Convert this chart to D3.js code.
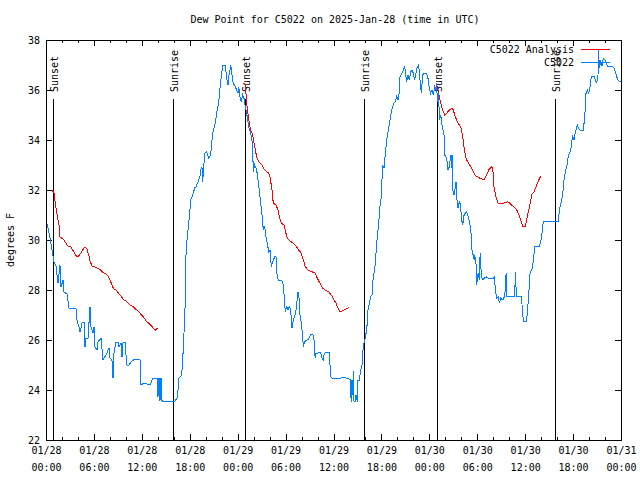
<!DOCTYPE html>
<html>
<head>
<meta charset="utf-8">
<script src="https://cdn.jsdelivr.net/npm/d3@7"></script>
<style>
  html, body { margin: 0; padding: 0; background: #fff; }
  svg { display: block; }
  text { font-family: "DejaVu Sans Mono", "Liberation Mono", monospace; font-size: 10px; fill: #000; }
</style>
</head>
<body>
<div id="chart"></div>
<script>
// ---------------- DATA ----------------
const titleText = "Dew Point for C5022 on 2025-Jan-28 (time in UTC)";
const yLabelText = "degrees F";
const startUTC = Date.UTC(2025, 0, 28, 0, 0);   // 01/28 00:00 UTC
const spanHours = 72;
const yTickValues = [22, 24, 26, 28, 30, 32, 34, 36, 38];
const xMajorHours = [0, 6, 12, 18, 24, 30, 36, 42, 48, 54, 60, 66, 72];
const xMinorHours = d3.range(0, 73, 2);

// C5022 observed dew point (hours since 01/28 00:00 UTC, degrees F)
const obsHours = [0.00,0.25,0.50,0.75,1.00,1.25,1.50,1.75,1.88,2.13,2.25,2.63,2.88,3.76,3.88,4.13,4.26,4.51,4.76,4.88,5.01,5.26,5.51,5.63,5.89,6.01,6.14,6.39,6.51,6.89,7.14,7.51,7.89,8.01,8.26,8.39,8.51,8.77,9.02,9.14,9.39,9.52,9.64,9.89,10.02,10.14,10.39,10.64,11.14,11.77,11.90,12.27,13.02,13.40,13.90,14.02,14.15,14.27,14.40,14.53,16.15,16.40,16.53,16.65,16.90,17.03,17.16,17.28,17.41,17.47,17.53,17.66,17.78,17.94,18.12,18.28,18.45,18.62,18.78,18.95,19.12,19.28,19.37,19.53,19.62,19.70,19.87,20.12,20.37,20.62,20.79,20.95,21.20,21.37,21.63,21.79,21.95,22.13,22.45,22.63,22.79,22.88,23.04,23.13,23.29,23.45,23.70,23.88,24.04,24.13,24.29,24.46,24.63,24.79,24.96,25.13,25.38,25.63,25.79,25.88,25.96,26.13,26.38,26.55,26.71,26.88,27.05,27.21,27.39,27.55,27.71,27.89,28.05,28.21,28.39,28.64,28.80,28.96,29.14,29.46,29.64,29.80,29.96,30.14,30.30,30.47,30.64,30.80,30.97,31.14,31.30,31.56,31.72,31.81,31.97,32.14,32.22,32.39,32.64,32.89,33.15,33.40,33.56,33.65,33.72,33.81,34.40,34.56,34.72,34.81,34.97,35.48,35.65,35.81,36.81,37.32,38.07,38.16,38.23,38.32,38.41,38.48,38.57,38.73,38.82,38.98,39.07,39.24,39.41,39.57,39.66,39.73,39.91,40.16,40.32,40.48,40.66,40.82,40.98,41.16,41.32,41.48,41.66,41.82,41.99,42.07,42.16,42.32,42.49,42.66,42.91,43.07,43.24,43.41,43.58,43.74,43.91,44.08,44.24,44.33,44.58,44.74,44.92,45.08,45.17,45.33,45.49,45.67,45.83,45.99,46.17,46.33,46.49,46.67,46.83,47.00,47.17,47.33,47.67,47.83,48.00,48.17,48.33,48.50,48.67,48.83,48.92,49.00,49.17,49.25,49.42,49.59,49.84,49.92,50.17,50.34,50.50,50.68,50.76,50.84,50.92,51.10,51.26,51.35,51.42,51.60,51.76,51.92,52.01,52.18,52.35,52.60,52.76,52.93,53.10,53.27,53.36,53.53,53.61,53.69,53.86,53.93,54.11,54.27,54.36,54.53,54.70,54.86,55.11,55.36,56.02,56.15,56.27,56.44,56.61,56.77,56.94,57.19,57.36,57.52,57.61,57.69,58.69,58.77,58.85,58.94,59.52,59.70,59.77,60.15,60.27,60.44,60.61,60.86,61.02,61.19,61.36,61.79,61.95,62.11,62.27,64.15,64.28,64.53,64.70,64.86,65.03,65.20,65.36,65.53,65.70,65.87,65.95,66.12,66.20,66.53,66.70,66.87,67.28,67.46,67.62,67.78,67.96,68.12,68.28,68.62,68.78,68.96,69.12,69.21,69.28,69.46,69.62,69.78,70.03,70.28,70.95,71.12,71.29,71.46,71.62,71.87,72.00];
const obsValues = [30.80,30.48,30.08,29.60,29.12,28.96,28.28,29.00,28.12,28.40,27.92,27.84,27.28,27.24,26.80,26.52,26.32,26.68,26.72,25.72,26.08,26.08,27.32,26.52,26.28,26.52,25.72,25.60,25.92,26.08,25.20,25.40,25.68,25.28,25.20,24.48,25.48,25.92,25.92,25.72,25.88,25.32,25.88,25.92,25.40,25.00,25.00,25.12,25.24,25.20,24.20,24.28,24.20,24.48,24.48,23.72,24.48,23.56,24.48,23.56,23.56,23.68,24.00,24.48,24.56,24.80,25.48,26.28,27.32,28.52,29.40,30.00,30.40,30.88,31.60,31.72,31.88,32.08,32.13,32.27,32.40,32.53,32.80,32.93,32.33,32.67,33.47,33.53,33.27,33.40,34.00,34.40,34.67,35.07,35.53,36.07,36.53,37.00,37.00,36.47,36.20,36.53,36.80,37.00,36.60,36.27,36.13,36.00,35.87,36.13,35.73,35.53,35.80,35.67,35.33,35.07,34.53,34.27,34.00,33.60,32.73,33.00,32.80,32.40,32.00,31.47,31.00,30.40,30.53,30.13,29.87,29.53,29.60,28.93,29.13,29.33,29.33,28.47,28.40,28.40,28.33,27.87,27.13,27.33,27.20,27.33,27.20,26.47,26.80,26.93,27.20,27.93,27.60,27.00,26.67,26.13,25.73,25.93,26.00,26.03,26.24,26.24,26.00,25.47,25.27,25.47,25.49,25.27,25.20,25.40,25.49,25.49,24.53,24.47,24.47,24.51,24.43,23.80,23.53,24.40,23.80,24.77,23.53,23.53,23.80,23.53,24.40,24.40,24.80,25.00,25.47,25.73,26.00,26.40,27.20,27.47,27.73,27.80,28.53,28.80,29.47,30.13,30.67,31.33,31.73,32.40,33.00,32.87,33.47,34.00,34.47,34.80,35.13,35.33,35.47,35.53,35.73,35.60,35.93,36.53,36.67,36.80,36.93,36.53,36.33,36.60,36.40,36.73,36.80,36.67,36.40,36.67,36.93,37.00,36.40,35.87,36.60,36.67,36.64,36.47,36.07,35.87,36.00,35.80,36.13,36.00,36.27,35.53,35.87,34.80,35.00,34.60,34.20,33.40,33.27,32.80,32.93,33.40,32.87,33.40,32.00,31.80,32.13,32.33,31.73,31.27,31.53,31.40,30.87,30.60,31.00,31.13,31.07,30.87,30.60,30.13,29.47,29.40,29.20,29.40,29.00,28.20,28.67,28.40,29.47,28.53,28.40,28.47,28.53,28.47,28.47,28.56,28.00,27.67,27.73,27.47,27.67,27.60,27.71,28.00,28.67,27.73,27.73,28.73,28.13,27.73,27.73,27.07,26.73,26.73,27.07,27.80,28.67,28.84,29.16,29.73,29.76,29.76,29.93,30.27,30.73,30.73,31.20,31.53,31.80,32.40,32.73,32.93,33.27,33.47,33.60,34.00,34.13,34.00,34.20,34.60,34.47,34.40,34.40,34.93,35.87,36.00,35.87,36.13,36.53,36.56,36.40,36.29,36.60,37.60,36.87,37.13,36.96,37.27,37.20,36.96,36.96,36.87,36.73,36.53,36.40,36.33,36.32];

// C5022 Analysis (null = gap between analysis runs)
const anaHours = [0.75,1.00,1.16,1.34,1.50,1.67,1.75,2.00,2.25,2.50,2.75,3.09,3.34,3.59,3.84,4.09,4.35,4.60,4.85,5.10,5.35,5.51,5.76,6.10,6.42,6.76,7.01,7.35,7.68,7.93,8.18,8.43,8.85,9.27,9.68,10.11,10.52,10.93,11.36,11.77,12.18,12.61,13.02,13.44,13.69,13.94,
  20.00,
  24.63,24.96,25.13,25.29,25.46,25.63,25.88,26.05,26.21,26.38,26.63,27.05,27.39,27.89,28.05,28.30,28.46,28.80,29.05,29.21,29.46,29.80,29.96,30.14,30.39,30.72,31.22,31.64,31.97,32.22,32.47,32.81,33.31,33.72,33.97,34.31,34.65,34.97,35.40,35.72,35.97,36.31,36.56,36.81,37.15,37.48,37.73,37.98,
  44.00,
  48.83,49.00,49.17,49.42,49.67,49.92,50.17,50.50,50.84,51.00,51.25,51.50,51.75,52.00,52.18,52.34,52.50,52.68,52.93,53.18,53.43,53.68,54.01,54.35,54.85,55.18,55.43,55.76,55.94,56.10,56.35,56.60,56.85,57.19,57.52,57.77,58.02,58.35,58.69,59.02,59.27,59.52,59.70,60.02,60.20,60.45,60.70,60.86,61.11,61.36,61.70,61.95];
const anaValues = [32.00,31.88,31.47,31.13,30.80,30.53,30.13,30.07,30.00,29.87,29.76,29.73,29.60,29.47,29.33,29.36,29.47,29.60,29.71,29.67,29.40,29.17,28.96,28.93,28.87,28.83,28.73,28.67,28.60,28.47,28.27,28.07,27.97,27.80,27.63,27.53,27.40,27.33,27.20,27.07,26.93,26.73,26.63,26.47,26.40,26.47,
  null,
  36.27,36.24,35.47,35.07,34.67,34.40,34.20,33.87,33.60,33.33,33.13,33.00,32.80,32.67,32.53,32.00,31.47,31.40,31.20,30.93,30.67,30.60,30.40,30.13,30.00,29.93,29.80,29.60,29.47,29.20,28.93,28.80,28.73,28.67,28.47,28.27,28.07,28.00,27.93,27.80,27.67,27.47,27.27,27.13,27.17,27.23,27.27,27.31,
  null,
  36.27,36.13,35.87,35.47,35.20,35.00,35.07,35.20,35.27,35.20,34.93,34.73,34.60,34.47,34.13,33.73,33.40,33.20,33.07,32.93,32.80,32.60,32.53,32.47,32.40,32.60,32.80,32.93,32.87,32.13,31.73,31.47,31.44,31.47,31.49,31.53,31.49,31.38,31.30,31.16,30.96,30.72,30.56,30.56,30.84,31.20,31.60,31.84,31.93,32.13,32.40,32.56];

// Sunrise / sunset markers
const sunHours = [0.92, 15.85, 24.95, 39.80, 48.98, 63.78];
const sunLabels = ["Sunset", "Sunrise", "Sunset", "Sunrise", "Sunset", "Sunrise"];

const seriesNames = ["C5022 Analysis", "C5022"];
const seriesColors = ["#ff0000", "#0080ff"];

// ---------------- CHART ----------------
const W = 640, H = 480;
const M = { left: 46, right: 621, top: 40, bottom: 440 };
const toDate = h => new Date(startUTC + h * 3600e3);

const svg = d3.select("#chart").append("svg").attr("width", W).attr("height", H);

const x = d3.scaleUtc().domain([toDate(0), toDate(spanHours)]).range([M.left, M.right]);
const y = d3.scaleLinear().domain([22, 38]).range([M.bottom, M.top]);

// title
svg.append("text").attr("x", 335).attr("y", 23).attr("text-anchor", "middle").text(titleText);
// y label
svg.append("text").attr("transform", "translate(14,240) rotate(-90)").attr("text-anchor", "middle").text(yLabelText);

const axG = svg.append("g").attr("shape-rendering", "crispEdges");

// bottom major axis with two-line labels
const fmtDay = d3.utcFormat("%m/%d"), fmtTime = d3.utcFormat("%H:%M");
const bottom = axG.append("g").attr("transform", `translate(0,${M.bottom})`)
  .call(d3.axisBottom(x).tickValues(xMajorHours.map(toDate)).tickSizeInner(-6).tickSizeOuter(0).tickPadding(7).tickFormat(""));
bottom.selectAll(".tick text").each(function(d) {
  const t = d3.select(this);
  t.append("tspan").attr("x", 0).attr("dy", "0.71em").text(fmtDay(d));
  t.append("tspan").attr("x", 0).attr("dy", "1.65em").text(fmtTime(d));
});
axG.append("g").attr("transform", `translate(0,${M.bottom})`)
  .call(d3.axisBottom(x).tickValues(xMinorHours.map(toDate)).tickSizeInner(-3).tickSizeOuter(0).tickFormat(""));
// top mirror
axG.append("g").attr("transform", `translate(0,${M.top})`)
  .call(d3.axisTop(x).tickValues(xMajorHours.map(toDate)).tickSizeInner(-6).tickSizeOuter(0).tickFormat(""));
axG.append("g").attr("transform", `translate(0,${M.top})`)
  .call(d3.axisTop(x).tickValues(xMinorHours.map(toDate)).tickSizeInner(-3).tickSizeOuter(0).tickFormat(""));
// left
axG.append("g").attr("transform", `translate(${M.left},0)`)
  .call(d3.axisLeft(y).tickValues(yTickValues).tickSizeInner(-6).tickSizeOuter(0).tickPadding(6).tickFormat(d3.format("d")));
// right mirror
axG.append("g").attr("transform", `translate(${M.right},0)`)
  .call(d3.axisRight(y).tickValues(yTickValues).tickSizeInner(-6).tickSizeOuter(0).tickFormat(""));

axG.selectAll(".domain").remove();
axG.selectAll(".tick line").attr("stroke", "#000");
axG.selectAll("text").attr("font-family", null).attr("font-size", null).attr("fill", "#000");

// sun lines
const sunG = svg.append("g");
sunHours.forEach((h, i) => {
  const sx = Math.round(x(toDate(h))) + 0.5;
  sunG.append("line").attr("x1", sx).attr("x2", sx).attr("y1", 99).attr("y2", M.bottom)
    .attr("stroke", "#000").attr("shape-rendering", "crispEdges");
  sunG.append("text").attr("transform", `translate(${sx + 4},92) rotate(-90)`).text(sunLabels[i]);
});

// data lines
const line = d3.line().defined(d => d.v != null).x(d => x(d.t)).y(d => y(d.v));
const anaData = anaHours.map((h, i) => ({ t: toDate(h), v: anaValues[i] }));
const obsData = obsHours.map((h, i) => ({ t: toDate(h), v: obsValues[i] }));
svg.append("path").datum(anaData).attr("d", line).attr("fill", "none").attr("stroke", seriesColors[0])
  .attr("stroke-width", 1).attr("shape-rendering", "crispEdges");
svg.append("path").datum(obsData).attr("d", line).attr("fill", "none").attr("stroke", seriesColors[1])
  .attr("stroke-width", 1).attr("shape-rendering", "crispEdges");

// legend
const legY = [49.5, 62.5];
seriesNames.forEach((name, i) => {
  svg.append("text").attr("x", 574).attr("y", legY[i]).attr("dy", "0.35em").attr("text-anchor", "end").text(name);
  svg.append("line").attr("x1", 581).attr("x2", 610).attr("y1", legY[i]).attr("y2", legY[i])
    .attr("stroke", seriesColors[i]).attr("shape-rendering", "crispEdges");
});

// frame
svg.append("rect").attr("x", M.left + 0.5).attr("y", M.top + 0.5)
  .attr("width", M.right - M.left).attr("height", M.bottom - M.top)
  .attr("fill", "none").attr("stroke", "#000").attr("shape-rendering", "crispEdges");
</script>
</body>
</html>
